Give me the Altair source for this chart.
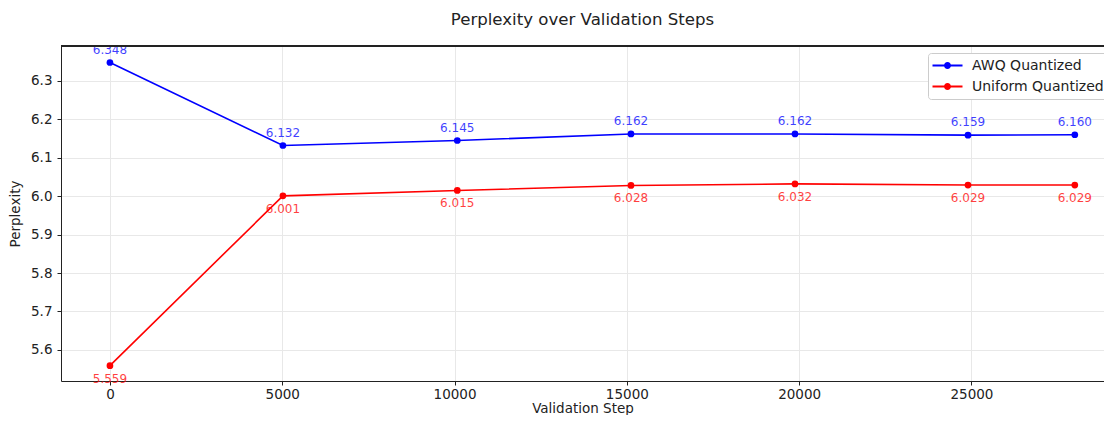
import altair as alt
import pandas as pd

steps = [0, 5020, 10080, 15120, 19880, 24900, 28000]
awq = [6.348, 6.132, 6.145, 6.162, 6.162, 6.159, 6.160]
uniform = [5.559, 6.001, 6.015, 6.028, 6.032, 6.029, 6.029]
series_names = ["AWQ Quantized", "Uniform Quantized"]
series_colors = ["#0000ff", "#ff0000"]
x_ticks = [0, 5000, 10000, 15000, 20000, 25000]
y_ticks = [5.6, 5.7, 5.8, 5.9, 6.0, 6.1, 6.2, 6.3]

rows = []
for s, a, u in zip(steps, awq, uniform):
    rows.append({"step": s, "ppl": a, "series": series_names[0], "label": f"{a:.3f}"})
    rows.append({"step": s, "ppl": u, "series": series_names[1], "label": f"{u:.3f}"})
df = pd.DataFrame(rows)

W, H = 1043, 335
FONT = "DejaVu Sans"

axis_common = dict(grid=True, gridColor="#e8e8e8", labelFontSize=13.5, titleFontSize=13.5,
                   labelColor="#222", titleColor="#222", tickColor="#222",
                   domainColor="#222", tickSize=4, labelFont=FONT, titleFont=FONT,
                   titleFontWeight="normal")
x_enc = alt.X("step:Q", scale=alt.Scale(domain=[-1420, 28847], nice=False, zero=False),
              axis=alt.Axis(values=x_ticks, format="d", title="Validation Step",
                            labelPadding=2, titlePadding=1, **axis_common))
y_enc = alt.Y("ppl:Q", scale=alt.Scale(domain=[5.519, 6.391], nice=False, zero=False),
              axis=alt.Axis(values=y_ticks, format=".1f", title="Perplexity",
                            labelPadding=5, titlePadding=8, **axis_common))
legend_symbol = ("M-2,-0.13 L2,-0.13 L2,0.13 L-2,0.13 Z "
                 "M0.47,0 A0.47,0.47 0 1,1 -0.47,0 A0.47,0.47 0 1,1 0.47,0 Z")
color_enc = alt.Color("series:N", scale=alt.Scale(domain=series_names, range=series_colors),
                      legend=alt.Legend(
                          title=None, orient="none", legendX=867, legendY=7,
                          symbolType=legend_symbol, symbolSize=225, symbolStrokeWidth=0,
                          symbolOpacity=1, symbolOffset=7,
                          labelFontSize=14, labelFont=FONT, labelColor="#222",
                          padding=5, fillColor="white", strokeColor="#cccccc",
                          cornerRadius=3, rowPadding=6, labelOffset=17))

base = alt.Chart(df)
lines = base.mark_line(strokeWidth=1.6).encode(x=x_enc, y=y_enc, color=color_enc)
points = base.mark_circle(size=45, opacity=1).encode(x="step:Q", y="ppl:Q",
                                                     color=alt.Color("series:N", legend=None))
lbl_awq = base.transform_filter(alt.datum.series == series_names[0]).mark_text(
    dy=-13, fontSize=12, font=FONT, color="#0000ff", opacity=0.75).encode(
    x="step:Q", y="ppl:Q", text="label:N")
lbl_uni = base.transform_filter(alt.datum.series == series_names[1]).mark_text(
    dy=13, fontSize=12, font=FONT, color="#ff0000", opacity=0.75).encode(
    x="step:Q", y="ppl:Q", text="label:N")
top_spine = alt.Chart(df).mark_rule(color="#222", strokeWidth=1).encode(
    x=alt.value(0), x2=alt.value(W), y=alt.value(0))

chart = alt.layer(lines, points, lbl_awq, lbl_uni, top_spine).properties(
    width=W, height=H,
    title=alt.TitleParams("Perplexity over Validation Steps", fontSize=16.6, font=FONT,
                          fontWeight="normal", color="#222", offset=15, anchor="middle"),
    autosize=alt.AutoSizeParams(type="none"),
    padding={"left": 53, "top": 38, "right": 0, "bottom": 34},
).configure_view(stroke=None)

chart.save("out.html", embed_options={"renderer": "svg", "actions": False})
